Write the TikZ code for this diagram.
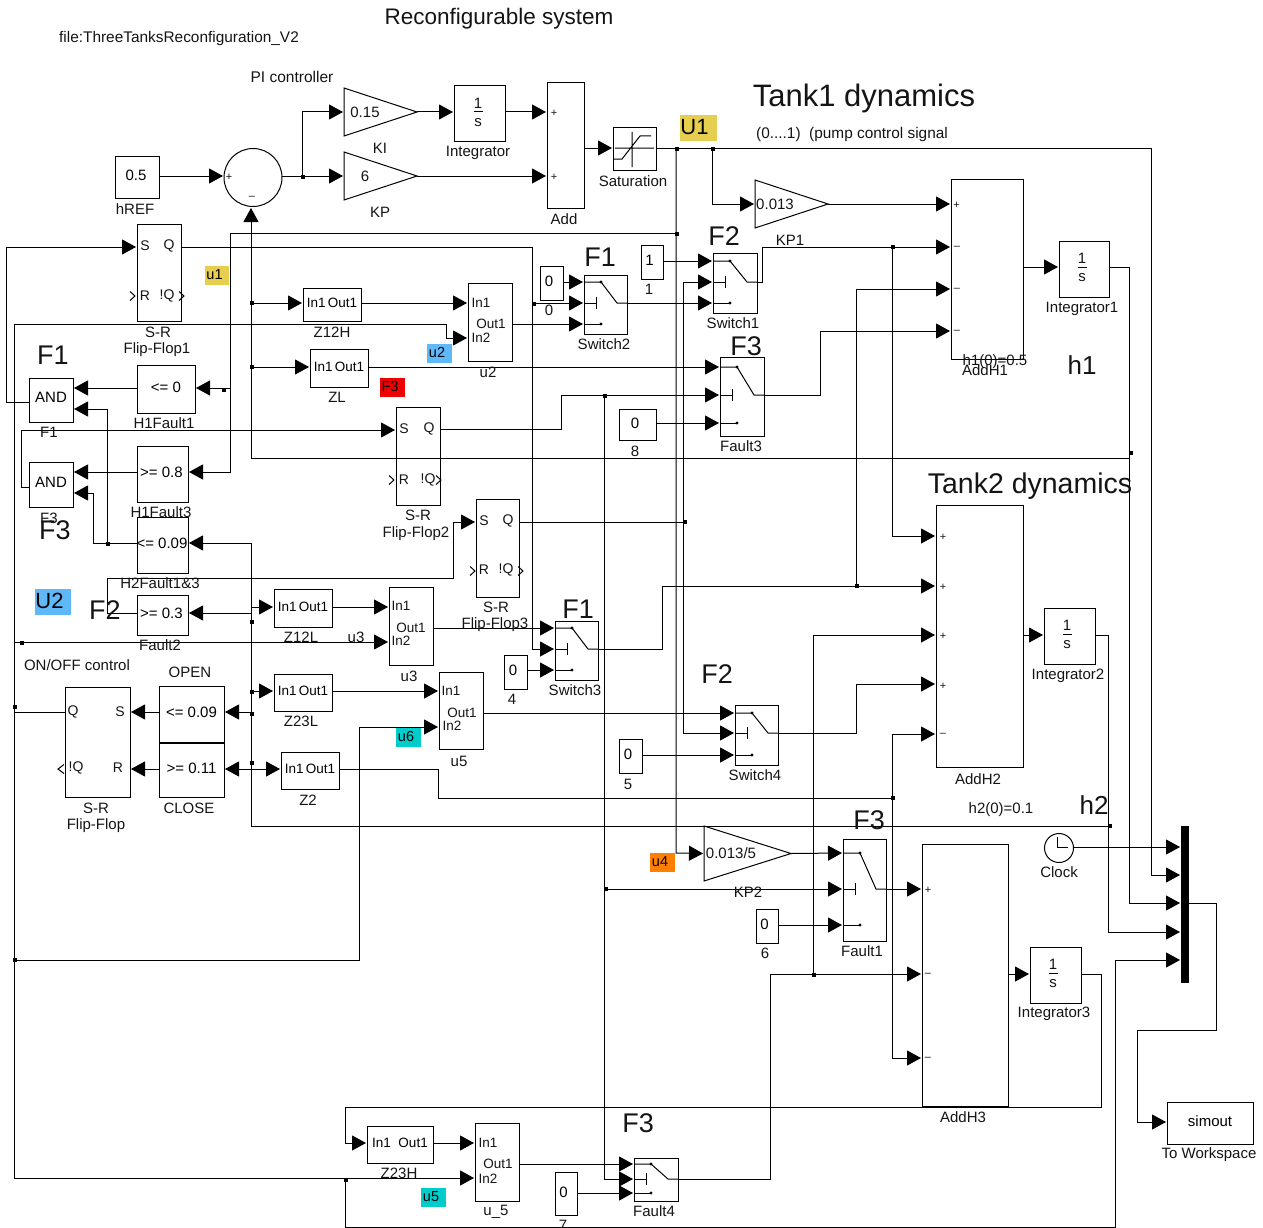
\documentclass[tikz,border=0pt]{standalone}
\usepackage{fontspec}
\setmainfont{Liberation Sans}
\usetikzlibrary{arrows.meta}
\newcounter{tn}
\newcommand{\fs}[1]{\fontsize{#1}{#1}\selectfont}
% text: [size]{x}{y}{text}
\newcommand{\tx}[4][15]{\stepcounter{tn}\node[lab,font=\fs{#1}] (t\arabic{tn}) at (#2,#3) {#4};}
% block: name x1 y1 x2 y2 text
\newcommand{\blk}[6]{\node[blockbox,minimum width={(#4-#2)*1pt},minimum height={(#5-#3)*1pt}] (#1) at ({(#2+#4)/2},{(#3+#5)/2}) {\raisebox{3pt}{#6}};}
% highlight: name x1 y1 x2 y2 colour text
\newcommand{\hl}[7]{\node[fill=#6,inner sep=0pt,minimum width={(#4-#2)*1pt},minimum height={(#5-#3)*1pt}] (#1) at ({(#2+#4)/2},{(#3+#5)/2}) {\raisebox{2pt}{#7}};}
% switch: name x1 y1 x2 y2 ya yb yc
\newcommand{\swb}[8]{\blk{#1}{#2}{#3}{#4}{#5}{}
 \draw[thin line] (#2,#6) -- ({#2+17},#6) -- ({#4-10},#7) -- (#4,#7);
 \draw[thin line] (#2,#7) -- ({#2+12},#7) ({#2+12},{#7-6}) -- ({#2+12},{#7+6});
 \draw[thin line] (#2,#8) -- ({#2+17},#8);
 \fill ({#2+17},#6) circle (1.6pt) ({#2+17},#8) circle (1.6pt);}
% chevrons
\newcommand{\chev}[2]{\draw[thin line] (#1,{#2-4.5}) -- ({#1+5},#2) -- (#1,{#2+4.5});}
% 1/s
\newcommand{\ints}[2]{\tx{#1}{#2-12}{1}\tx{#1}{#2+8}{s}\draw[thin line] ({#1-4.5},{#2-1}) -- ({#1+4.5},{#2-1});}
% gain triangle: name x1 y1 y2 x2
\newcommand{\gain}[5]{\draw[thin line] (#2,#3) -- (#5,{(#3+#4)/2}) -- (#2,#4) -- cycle;
 \coordinate (#1in) at (#2,{(#3+#4)/2}); \coordinate (#1out) at (#5,{(#3+#4)/2});}
\newcommand{\jd}[3]{\node[junct] (#1) at (#2,#3) {};}
\newcommand{\cz}{\hspace{-5pt}0}
\definecolor{hyellow}{HTML}{E6CF50}
\definecolor{hblue}{HTML}{5FB8F8}
\definecolor{hcyan}{HTML}{00CCCC}
\definecolor{horange}{HTML}{FF8000}
\definecolor{hred}{HTML}{EE0000}
\begin{document}
\begin{tikzpicture}[x=1pt,y=-1pt,
 lab/.style={inner sep=0pt,outer sep=0pt,text=black!92,yshift=-2pt},
 blockbox/.style={draw,line width=1pt,inner sep=0pt,outer sep=0pt,font=\fs{15}},
 thin line/.style={line width=1pt,line join=miter},
 wire/.style={line width=1pt},
 sig/.style={line width=1pt,-{Triangle[length=14pt,width=15pt]},shorten >=1pt},
 junct/.style={fill,inner sep=0pt,minimum size=4pt,outer sep=0pt}]
\useasboundingbox (0,0) rectangle (1263,1228);
% highlights
\hl{hU1}{680}{115}{717}{141}{hyellow}{\hspace{-8pt}\fs{22}U1}
\hl{hu1}{205}{266}{229}{285}{hyellow}{\hspace{-5pt}\fs{14.5}u1}
\hl{hu2}{427}{344}{452}{363}{hblue}{\hspace{-5pt}\fs{14.5}u2}
\hl{hF3}{380}{378}{405}{397}{hred}{\hspace{-5pt}\fs{14.5}F3}
\hl{hU2}{35}{589}{71}{615}{hblue}{\hspace{-7pt}\fs{22}U2}
\hl{hu6}{396}{728}{421}{747}{hcyan}{\hspace{-5pt}\fs{14.5}u6}
\hl{hu4}{650}{853}{675}{872}{horange}{\hspace{-5pt}\fs{14.5}u4}
\hl{hu5}{421}{1188}{446}{1207}{hcyan}{\hspace{-5pt}\fs{14.5}u5}
% top row
\blk{hREF}{115}{156}{159}{198}{\hspace{-2pt}0.5}
\node[draw,circle,line width=1pt,inner sep=0pt,outer sep=0pt,minimum size=58pt] (Sum) at (253,177.5) {};
\gain{KI}{344}{88}{136}{417}
\gain{KP}{344}{152}{200}{417}
\gain{GA}{755}{180}{228}{828}
\gain{GB}{704}{826}{881}{791}
\blk{Integ}{454}{86}{505}{142}{}
\blk{Add}{547}{83}{584}{208}{}
\blk{Sat}{613}{128}{656}{170}{}
\draw[thin line] (632,132) -- (632,167) (615,148) -- (654,148) (614,159) -- (622,159) -- (640,136) -- (651,136);
% left column
\blk{FFa}{137}{224}{181}{321}{}
\blk{FFb}{396}{407}{440}{505}{}
\blk{FFc}{476}{499}{519}{597}{}
\blk{FFd}{65}{687}{130}{797}{}
\blk{ANDa}{29}{378}{73}{422}{\raisebox{2pt}{AND}}
\blk{ANDb}{29}{462}{73}{507}{\raisebox{2pt}{AND}}
\blk{HFa}{137}{365}{195}{413}{<= 0}
\blk{HFb}{137}{446}{188}{502}{\hspace{-2pt}>= 0.8}
\blk{HFc}{137}{517}{188}{573}{\hspace{-1pt}<= 0.09}
\blk{Ftwo}{137}{595}{188}{635}{\hspace{-2pt}>= 0.3}
\blk{Open}{159}{686}{224}{742}{<= 0.09}
\blk{Close}{159}{743}{224}{797}{>= 0.11}
\blk{ZaH}{303}{288}{361}{321}{\fs{13.5}In1\,Out1}
\blk{ZL}{310}{349}{368}{387}{\fs{13.5}In1\,Out1}
\blk{ZaL}{274}{589}{332}{627}{\fs{13.5}In1\,Out1}
\blk{ZbL}{274}{674}{332}{711}{\fs{13.5}In1\,Out1}
\blk{Ztwo}{281}{752}{339}{789}{\fs{13.5}In1\,Out1}
\blk{ZbH}{367}{1126}{433}{1163}{\fs{13.5}In1\ \ Out1}
\blk{uA}{468}{283}{512}{361}{}
\blk{uB}{389}{587}{433}{665}{}
\blk{uC}{439}{672}{483}{749}{}
\blk{uD}{475}{1123}{519}{1201}{}
% constants
\blk{CA}{540}{266}{563}{300}{\cz}
\blk{CB}{641}{245}{663}{279}{\hspace{-5pt}1}
\blk{CC}{619}{409}{656}{440}{\cz}
\blk{CD}{504}{655}{527}{689}{\cz}
\blk{CE}{619}{739}{642}{773}{\cz}
\blk{CF}{756}{909}{778}{943}{\cz}
\blk{CG}{555}{1172}{577}{1215}{\cz}
% switches
\swb{SwB}{584}{275}{627}{334}{282}{303}{324}
\swb{SwA}{713}{253}{757}{313}{261}{282}{303}
\swb{FltC}{720}{357}{764}{436}{367}{395}{423}
\swb{SwC}{555}{621}{598}{680}{628}{649}{670}
\swb{SwD}{735}{705}{778}{765}{713}{733}{755}
\swb{FltA}{843}{839}{886}{941}{853}{889}{925}
\swb{FltD}{634}{1158}{678}{1201}{1164}{1179}{1193}
% tanks
\blk{AddA}{951}{179}{1023}{359}{}
\blk{AddB}{936}{505}{1023}{767}{}
\blk{AddC}{922}{844}{1008}{1106}{}
\blk{IntA}{1059}{241}{1109}{297}{}
\blk{IntB}{1044}{608}{1095}{664}{}
\blk{IntC}{1030}{947}{1081}{1003}{}
\node[fill,inner sep=0pt,outer sep=0pt,minimum width=8pt,minimum height=157pt] (Mux) at (1185,904.5) {};
\blk{Wksp}{1167}{1102}{1253}{1144}{simout}
\node[draw,circle,line width=1pt,inner sep=0pt,outer sep=0pt,minimum size=29pt] (Clk) at (1059,848) {};
\draw[thin line] (1057,837) -- (1057,847) -- (1068,847);
% junctions
\jd{jSum}{303}{177}\jd{jUa}{677}{149}\jd{jUb}{713}{149}\jd{jUc}{677}{234}
\jd{jHa}{224}{390}\jd{jZa}{252}{303}\jd{jZb}{252}{367}\jd{jF}{108}{544}
\jd{jQ}{534}{304}\jd{jFc}{685}{522}\jd{jFb}{605}{396}\jd{jKa}{893}{247}
\jd{jSc}{857}{586}\jd{jZt}{893}{798}\jd{jHt}{1110}{826}\jd{jHo}{1131}{453}
\jd{jFd}{814}{975}\jd{jKb}{606}{889}\jd{jUt}{346}{1180}\jd{jUs}{15}{960}
\jd{jUr}{22}{643}\jd{jUq}{15}{707}\jd{jHp}{252}{622}\jd{jHq}{252}{692}
\jd{jHr}{252}{714}\jd{jHs}{252}{763}
% named wire corners that carry junctions
\coordinate (wA) at (676,148);
\coordinate (wB) at (712,148);
\coordinate (wC) at (676,233);
\coordinate (wD) at (230,388);
\coordinate (wE) at (107,543);
\coordinate (wF) at (1129,458);
\coordinate (wG) at (1108,826);
\coordinate (wH) at (345,1178);
\coordinate (wI) at (604,395);
\coordinate (wJ) at (892,247);
\coordinate (wK) at (892,798);
\coordinate (wL) at (856,586);
\coordinate (wM) at (813,974);
\coordinate (wN) at (683,522);
% PI wires
\draw[sig] (hREF.east|-0,176) -- (Sum.west|-0,176);
\draw[sig] (Sum.east|-0,176) -- (KPin);
\draw[sig] (302,176) |- (KIin);
\draw[sig] (KIout) -- (Integ.west|-KIout);
\draw[sig] (Integ.east|-KIout) -- (Add.west|-KIout);
\draw[sig] (KPout) -- (Add.west|-KPout);
\draw[sig] (Add.east|-0,148) -- (Sat.west|-0,148);
% U1 net
\draw[sig] (Sat.east|-0,148) -- (1151,148) -- (1151,875) -- (Mux.west|-0,875);
\draw[sig] (wB) -- (712,204) -- (GAin);
\draw[sig] (GAout) -- (AddA.west|-GAout);
\draw[sig] (wA) -- (676,853) -- (GBin);
\draw[sig] (wC) -- (230,233) -- (230,472) -- (HFb.east|-0,472);
\draw[sig] (wD) -- (HFa.east|-0,388);
% h1 feedback
\draw[sig] (IntA.east|-0,267) -- (1129,267) -- (1129,903) -- (Mux.west|-0,903);
\draw[sig] (AddA.east|-0,267) -- (IntA.west|-0,267);
\draw[sig] (wF) -- (251,458) -- (251,207);
\draw[sig] (251,303) -- (ZaH.west|-0,303);
\draw[sig] (251,367) -- (ZL.west|-0,367);
% first flip-flops and faults
\draw[sig] (ANDa.west|-0,402) -- (6,402) -- (6,247) -- (FFa.west|-0,247);
\draw[sig] (HFa.west|-0,388) -- (ANDa.east|-0,388);
\draw[sig] (wE) -- (107,409) -- (ANDa.east|-0,409);
\draw[sig] (ANDb.west|-0,487) -- (21,487) -- (21,430) -- (FFb.west|-0,430);
\draw[sig] (HFb.west|-0,472) -- (ANDb.east|-0,472);
\draw[sig] (HFc.west|-0,543) -- (93,543) -- (93,493) -- (ANDb.east|-0,493);
\draw[sig] (wG) -- (251,826) -- (251,543) -- (HFc.east|-0,543);
\draw[sig] (Ftwo.west|-0,613) -- (107,613) -- (107,578) -- (453,578) -- (453,522) -- (FFc.west|-0,522);
\draw[sig] (251,613) -- (Ftwo.east|-0,613);
\draw[sig] (251,607) -- (ZaL.west|-0,607);
\draw[sig] (251,691) -- (ZbL.west|-0,691);
\draw[sig] (251,712) -- (Open.east|-0,712);
\draw[sig] (251,769) -- (Close.east|-0,769);
\draw[sig] (251,769) -- (Ztwo.west|-0,769);
\draw[sig] (Open.west|-0,712) -- (FFd.east|-0,712);
\draw[sig] (Close.west|-0,769) -- (FFd.east|-0,769);
% h2 feedback
\draw[sig] (IntB.east|-0,635) -- (1108,635) -- (1108,932) -- (Mux.west|-0,932);
\draw[sig] (AddB.east|-0,635) -- (IntB.west|-0,635);
% U2 net
\draw[wire] (14,324) -- (14,1178);
\draw[sig] (14,324) -- (446,324) -- (446,338) -- (uA.west|-0,338);
\draw[wire] (FFd.west|-0,712) -- (14,712);
\draw[sig] (14,642) -- (uB.west|-0,642);
\draw[sig] (14,960) -- (359,960) -- (359,727) -- (uC.west|-0,727);
\draw[sig] (14,1178) -- (uD.west|-0,1178);
\draw[sig] (wH) -- (345,1227) -- (1115,1227) -- (1115,960) -- (Mux.west|-0,960);
% Z blocks to u blocks
\draw[sig] (ZaH.east|-0,303) -- (uA.west|-0,303);
\draw[sig] (ZaL.east|-0,607) -- (uB.west|-0,607);
\draw[sig] (ZbL.east|-0,691) -- (uC.west|-0,691);
\draw[sig] (ZbH.east|-0,1143) -- (uD.west|-0,1143);
\draw[sig] (ZL.east|-0,367) -- (FltC.west|-0,367);
% switch inputs
\draw[sig] (CA.east|-0,282) -- (SwB.west|-0,282);
\draw[sig] (FFa.east|-0,247) -- (532,247) -- (532,649) -- (SwC.west|-0,649);
\draw[sig] (532,303) -- (SwB.west|-0,303);
\draw[sig] (uA.east|-0,324) -- (SwB.west|-0,324);
\draw[sig] (CB.east|-0,261) -- (SwA.west|-0,261);
\draw[sig] (SwB.east|-0,303) -- (SwA.west|-0,303);
\draw[sig] (wN) -- (683,282) -- (SwA.west|-0,282);
\draw[sig] (wN) -- (683,733) -- (SwD.west|-0,733);
\draw[wire] (FFc.east|-0,522) -- (wN);
\draw[sig] (FFb.east|-0,429) -- (561,429) -- (561,395) -- (FltC.west|-0,395);
\draw[sig] (wI) -- (604,1179) -- (FltD.west|-0,1179);
\draw[sig] (604,889) -- (FltA.west|-0,889);
\draw[sig] (CC.east|-0,423) -- (FltC.west|-0,423);
\draw[sig] (uB.east|-0,628) -- (SwC.west|-0,628);
\draw[sig] (CD.east|-0,670) -- (SwC.west|-0,670);
\draw[sig] (uC.east|-0,713) -- (SwD.west|-0,713);
\draw[sig] (CE.east|-0,755) -- (SwD.west|-0,755);
\draw[sig] (GBout) -- (FltA.west|-0,853);
\draw[sig] (CF.east|-0,925) -- (FltA.west|-0,925);
\draw[sig] (uD.east|-0,1164) -- (FltD.west|-0,1164);
\draw[sig] (CG.east|-0,1193) -- (FltD.west|-0,1193);
% switch outputs
\draw[sig] (SwA.east|-0,282) -- (762,282) -- (762,247) -- (AddA.west|-0,247);
\draw[sig] (FltC.east|-0,395) -- (820,395) -- (820,331) -- (AddA.west|-0,331);
\draw[sig] (wL) -- (856,289) -- (AddA.west|-0,289);
\draw[sig] (SwC.east|-0,649) -- (662,649) -- (662,586) -- (AddB.west|-0,586);
\draw[sig] (wJ) -- (892,536) -- (AddB.west|-0,536);
\draw[sig] (wM) -- (813,635) -- (AddB.west|-0,635);
\draw[sig] (SwD.east|-0,733) -- (856,733) -- (856,684) -- (AddB.west|-0,684);
\draw[wire] (Ztwo.east|-0,769) -- (438,769) -- (438,798) -- (wK);
\draw[sig] (wK) -- (892,734) -- (AddB.west|-0,734);
\draw[sig] (wK) -- (892,1058) -- (AddC.west|-0,1058);
\draw[sig] (FltA.east|-0,889) -- (AddC.west|-0,889);
\draw[sig] (FltD.east|-0,1179) -- (770,1179) -- (770,974) -- (AddC.west|-0,974);
\draw[sig] (AddC.east|-0,974) -- (IntC.west|-0,974);
\draw[sig] (IntC.east|-0,974) -- (1101,974) -- (1101,1107) -- (345,1107) -- (345,1143) -- (ZbH.west|-0,1143);
% mux and sink
\draw[sig] (Clk.east|-0,847) -- (Mux.west|-0,847);
\draw[sig] (Mux.east|-0,903) -- (1216,903) -- (1216,1030) -- (1137,1030) -- (1137,1122) -- (Wksp.west|-0,1122);
% chevrons
\chev{130}{296}\chev{179}{296}\chev{389}{480}\chev{436}{480}\chev{470}{571}\chev{518}{571}
\draw[thin line] (64,764.5) -- (58,769) -- (64,773.5);
% port texts
\tx[11]{554}{111}{+}\tx[11]{554}{175}{+}\tx[11]{229}{175}{+}\tx[11]{252}{196}{–}
\tx[11]{956.5}{203}{+}\tx[11]{957}{246}{–}\tx[11]{957}{288}{–}\tx[11]{957}{330}{–}
\tx[11]{943}{535}{+}\tx[11]{943}{585}{+}\tx[11]{943}{634}{+}\tx[11]{943}{684}{+}\tx[11]{943}{733}{–}
\tx[11]{928}{888}{+}\tx[11]{928}{973}{–}\tx[11]{928}{1057}{–}
% gains
\tx{365}{110}{0.15}\tx{365}{174}{6}\tx{775}{202}{0.013}\tx{731}{851}{0.013/5}
% 1/s
\ints{478}{113}\ints{1082}{268}\ints{1067}{635}\ints{1053}{974}
% flip-flop ports
\tx[14]{145}{244}{S}\tx[14]{169}{244}{Q}\tx[14]{145}{294}{R}\tx[14]{167}{294}{!Q}
\tx[14]{404}{427}{S}\tx[14]{429}{427}{Q}\tx[14]{404}{478}{R}\tx[14]{428}{478}{!Q}
\tx[14]{484}{519}{S}\tx[14]{508}{519}{Q}\tx[14]{484}{568}{R}\tx[14]{506}{568}{!Q}
\tx[14]{73}{710}{Q}\tx[14]{120}{710}{S}\tx[14]{76}{766}{!Q}\tx[14]{118}{766}{R}
% u-block ports
\tx[13.5]{481}{301}{In1}\tx[13.5]{491}{322}{Out1}\tx[13.5]{481}{336}{In2}
\tx[13.5]{401}{604}{In1}\tx[13.5]{411}{626}{Out1}\tx[13.5]{401}{639}{In2}
\tx[13.5]{451}{689}{In1}\tx[13.5]{462}{711}{Out1}\tx[13.5]{452}{724}{In2}
\tx[13.5]{488}{1141}{In1}\tx[13.5]{498}{1162}{Out1}\tx[13.5]{488}{1177}{In2}
% labels
\tx[22.5]{499}{17}{Reconfigurable system}
\tx[15.4]{179}{37}{file:ThreeTanksReconfiguration\_V2}
\tx[15.5]{292}{75}{PI controller}
\tx[31]{864}{96}{Tank1 dynamics}
\tx[28.5]{1030}{484}{Tank2 dynamics}
\tx[15.4]{852}{133}{(0....1)\ \ (pump control signal}
\tx{135}{207}{hREF}\tx{380}{146}{KI}\tx{380}{210}{KP}\tx{478}{151}{Integrator}
\tx{564}{217}{Add}\tx{633}{179}{Saturation}\tx{790}{238}{KP1}
\tx{158}{330}{S-R}\tx{157}{348}{Flip-Flop1}
\tx{164}{421}{H1Fault1}\tx{49}{430}{F1}\tx{161}{510}{H1Fault3}\tx{49}{516}{F3}
\tx{160}{581}{H2Fault1\&3}\tx{160}{643}{Fault2}
\tx{332}{330}{Z12H}\tx{337}{395}{ZL}\tx{488}{370}{u2}
\tx{418}{513}{S-R}\tx{416}{532}{Flip-Flop2}
\tx{496}{605}{S-R}\tx{495}{623}{Flip-Flop3}
\tx{301}{635}{Z12L}\tx{356}{635}{u3}\tx{409}{674}{u3}
\tx{301}{719}{Z23L}\tx{459}{759}{u5}\tx{308}{798}{Z2}
\tx{77}{663}{ON/OFF control}\tx{190}{670}{OPEN}\tx{189}{806}{CLOSE}
\tx{96}{806}{S-R}\tx{96}{824}{Flip-Flop}
\tx{604}{342}{Switch2}\tx{549}{308}{0}\tx{733}{321}{Switch1}\tx{649}{287}{1}
\tx{741}{444}{Fault3}\tx{635}{449}{8}\tx{575}{688}{Switch3}\tx{512}{697}{4}
\tx{755}{773}{Switch4}\tx{628}{782}{5}\tx{748}{890}{KP2}\tx{862}{949}{Fault1}\tx{765}{951}{6}
\tx{399}{1171}{Z23H}\tx{496}{1210}{u\_5}\tx{563}{1223}{7}\tx{654}{1209}{Fault4}
\tx{995}{360}{h1(0)=0.5}\tx{985}{368}{AddH1}\tx{978}{777}{AddH2}\tx{963}{1115}{AddH3}
\tx{1082}{307}{Integrator1}\tx{1068}{674}{Integrator2}\tx{1054}{1012}{Integrator3}
\tx{1001}{808}{h2(0)=0.1}\tx{1059}{870}{Clock}\tx{1209}{1153}{To Workspace}
% big labels
\tx[27]{600}{255}{F1}\tx[27]{724}{234}{F2}\tx[27]{746}{344}{F3}
\tx[27]{53}{353}{F1}\tx[27]{55}{528}{F3}\tx[27]{105}{608}{F2}
\tx[27]{578}{607}{F1}\tx[27]{717}{672}{F2}\tx[27]{869}{818}{F3}\tx[27]{638}{1121}{F3}
\tx[26]{1082}{363}{h1}\tx[26]{1094}{803}{h2}
\end{tikzpicture}
\end{document}
